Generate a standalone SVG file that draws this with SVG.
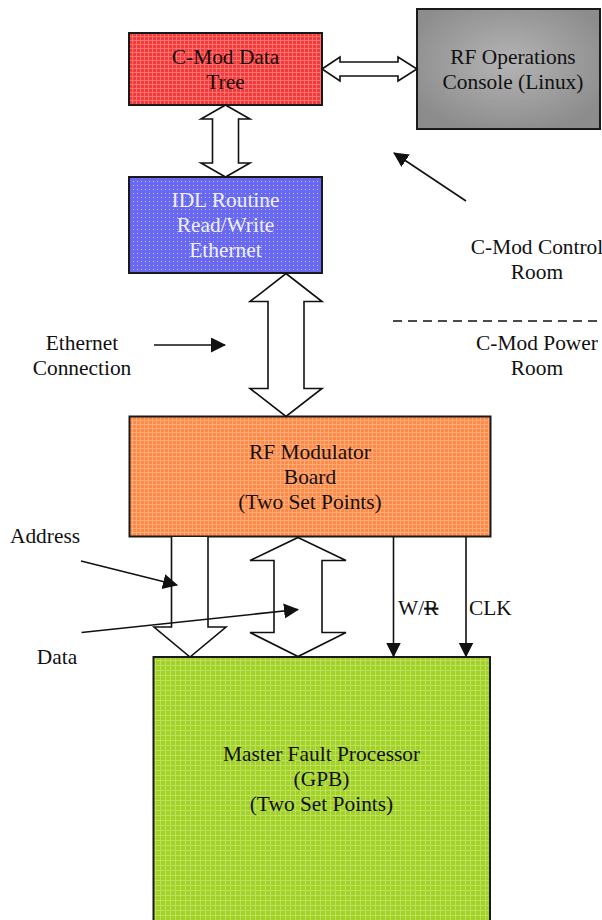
<svg xmlns="http://www.w3.org/2000/svg" width="602" height="920" viewBox="0 0 602 920">
<style>
text{font-family:"Liberation Serif","DejaVu Serif",serif;font-size:21.4px;fill:#111;text-anchor:middle}
.box{stroke:#1a1a1a;stroke-width:2}
.bus{fill:#fff;stroke:#111;stroke-width:1.6;stroke-linejoin:miter}
.wire{stroke:#111;stroke-width:1.6;fill:none}
.lt{text-anchor:start}
</style>
<defs>
<pattern id="pRed" width="4" height="4" patternUnits="userSpaceOnUse">
<rect width="4" height="4" fill="#f23a3a"/><rect x="0" y="0" width="4" height="1" fill="#ff7070"/><rect x="0" y="0" width="1" height="4" fill="#ff7070"/>
</pattern>
<pattern id="pBlue" width="4" height="4" patternUnits="userSpaceOnUse">
<rect width="4" height="4" fill="#6868f2"/><rect x="1" y="1" width="1" height="1" fill="#c8c8ff"/>
</pattern>
<pattern id="pOrange" width="4" height="4" patternUnits="userSpaceOnUse">
<rect width="4" height="4" fill="#ff8a48"/><rect x="0" y="0" width="4" height="1" fill="#ffac78"/><rect x="0" y="0" width="1" height="4" fill="#ffac78"/>
</pattern>
<pattern id="pGreen" width="5" height="5" patternUnits="userSpaceOnUse">
<rect width="5" height="5" fill="#a2d12a"/><rect x="0" y="0" width="5" height="1" fill="#bde25a"/><rect x="0" y="0" width="1" height="5" fill="#bde25a"/>
</pattern>
<radialGradient id="gGray" cx="0.5" cy="0.45" r="0.6">
<stop offset="0" stop-color="#b4b4b4"/><stop offset="1" stop-color="#8c8c8c"/>
</radialGradient>
<marker id="tri" markerWidth="16" markerHeight="16" refX="14" refY="7.5" orient="auto" markerUnits="userSpaceOnUse">
<path d="M0,0 L15,7.5 L0,15 Z" fill="#111"/>
</marker>
</defs>
<rect width="602" height="920" fill="#fff"/>

<g id="node-green">
<rect class="box" x="153.5" y="657" width="336.5" height="280" fill="url(#pGreen)"/>
<text x="321.5" y="761">Master Fault Processor</text>
<text x="321.5" y="786">(GPB)</text>
<text x="321.5" y="811">(Two Set Points)</text>
</g>

<g id="node-red">
<rect class="box" x="129" y="33" width="193" height="72" fill="url(#pRed)"/>
<text x="225.5" y="63.5">C-Mod Data</text>
<text x="225.5" y="88.5">Tree</text>
</g>

<g id="node-gray">
<rect class="box" x="417" y="9" width="183" height="120" fill="url(#gGray)"/>
<text x="513" y="64">RF Operations</text>
<text x="513" y="89">Console (Linux)</text>
</g>

<g id="node-blue">
<rect class="box" x="129" y="177" width="193" height="96" fill="url(#pBlue)"/>
<text x="225.5" y="207" style="fill:#f0f0ff">IDL Routine</text>
<text x="225.5" y="232" style="fill:#f0f0ff">Read/Write</text>
<text x="225.5" y="257" style="fill:#f0f0ff">Ethernet</text>
</g>

<g id="node-orange">
<rect class="box" x="129.5" y="416.5" width="361" height="120" fill="url(#pOrange)"/>
<text x="310" y="458.5">RF Modulator</text>
<text x="310" y="483.5">Board</text>
<text x="310" y="508.5">(Two Set Points)</text>
</g>

<g id="labels">
<text x="537" y="254">C-Mod Control</text>
<text x="537" y="278.5">Room</text>
<text x="537" y="350">C-Mod Power</text>
<text x="537" y="374.5">Room</text>
<text x="82" y="350">Ethernet</text>
<text x="82" y="374.5">Connection</text>
<text x="45" y="542.5">Address</text>
<text x="57" y="663.5">Data</text>
<text class="lt" x="398" y="615">W/<tspan text-decoration="line-through">R</tspan></text>
<text class="lt" x="469" y="615">CLK</text>
</g>

<g id="connectors">
<polygon class="bus" points="322,69 340,57 340,62 398,62 398,57 417,69 398,81 398,76 340,76 340,81"/>
<polygon class="bus" points="225.5,105 250,119 238.5,119 238.5,163 250,163 225.5,177 201,163 212.5,163 212.5,119 201,119"/>
<polygon class="bus" points="286,273.5 322,301.5 304,301.5 304,388.5 322,388.5 286,416.5 250,388.5 268,388.5 268,301.5 250,301.5"/>
<polyline class="bus" points="171.5,537 171.5,627 154,627 190,657 226,627 208,627 208,537"/>
<polygon class="bus" points="298,537.5 346,560.5 322,560.5 322,632.5 346,632.5 298,656.5 250,632.5 274,632.5 274,560.5 250,560.5"/>
<line class="wire" x1="393.5" y1="537" x2="393.5" y2="656.5" marker-end="url(#tri)"/>
<line class="wire" x1="466" y1="537" x2="466" y2="656.5" marker-end="url(#tri)"/>
<line class="wire" x1="466" y1="201" x2="394" y2="153" marker-end="url(#tri)"/>
<line class="wire" x1="393" y1="321" x2="602" y2="321" stroke-dasharray="9,6"/>
<line class="wire" x1="154" y1="345" x2="225" y2="345" marker-end="url(#tri)"/>
<line class="wire" x1="81" y1="561" x2="177" y2="585" marker-end="url(#tri)"/>
<line class="wire" x1="81.5" y1="632.5" x2="298" y2="609.5" marker-end="url(#tri)"/>
</g>
</svg>
